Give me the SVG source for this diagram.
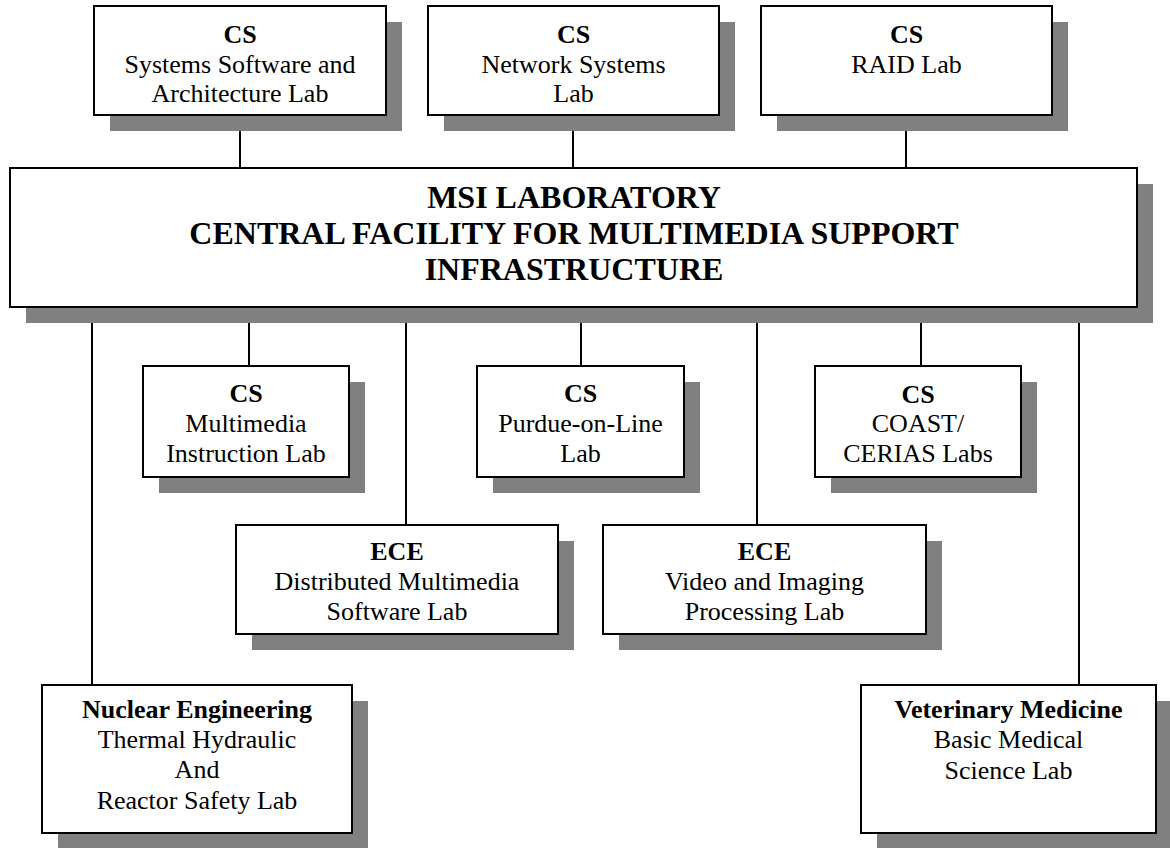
<svg xmlns="http://www.w3.org/2000/svg" width="1170" height="848" viewBox="0 0 1170 848">
<style>
.bg{fill:#ffffff}
.sh{fill:#808080}
.bx{fill:#ffffff;stroke:#000000;stroke-width:2}
.ln{stroke:#000000;stroke-width:2;fill:none}
text{font-family:"Liberation Serif","Times New Roman",serif;font-size:26px;fill:#000000;text-anchor:middle}
.b{font-weight:bold}
.t{font-weight:bold;font-size:32px}
</style>
<rect class="bg" x="0" y="0" width="1170" height="848"/>
<g id="connectors">
<line class="ln" x1="240" y1="131" x2="240" y2="168"/>
<line class="ln" x1="573" y1="131" x2="573" y2="168"/>
<line class="ln" x1="906" y1="131" x2="906" y2="168"/>
<line class="ln" x1="92" y1="322" x2="92" y2="685"/>
<line class="ln" x1="249" y1="322" x2="249" y2="366"/>
<line class="ln" x1="406" y1="322" x2="406" y2="525"/>
<line class="ln" x1="581" y1="322" x2="581" y2="366"/>
<line class="ln" x1="757" y1="322" x2="757" y2="525"/>
<line class="ln" x1="921" y1="322" x2="921" y2="366"/>
<line class="ln" x1="1079" y1="322" x2="1079" y2="685"/>
</g>
<g id="main">
<rect class="sh" x="26" y="184" width="1127" height="139"/>
<rect class="bx" x="10" y="168" width="1127" height="139"/>
<text class="t" x="574" y="208">MSI LABORATORY</text>
<text class="t" x="574" y="244">CENTRAL FACILITY FOR MULTIMEDIA SUPPORT</text>
<text class="t" x="574" y="280">INFRASTRUCTURE</text>
</g>
<g id="cs-systems">
<rect class="sh" x="110" y="22" width="292" height="109"/>
<rect class="bx" x="94" y="6" width="292" height="109"/>
<text class="b" x="240" y="43">CS</text>
<text x="240" y="73">Systems Software and</text>
<text x="240" y="102">Architecture Lab</text>
</g>
<g id="cs-network">
<rect class="sh" x="444" y="22" width="291" height="109"/>
<rect class="bx" x="428" y="6" width="291" height="109"/>
<text class="b" x="573.5" y="43">CS</text>
<text x="573.5" y="73">Network Systems</text>
<text x="573.5" y="102">Lab</text>
</g>
<g id="cs-raid">
<rect class="sh" x="777" y="22" width="291" height="109"/>
<rect class="bx" x="761" y="6" width="291" height="109"/>
<text class="b" x="906.5" y="43">CS</text>
<text x="906.5" y="73">RAID Lab</text>
</g>
<g id="cs-multimedia">
<rect class="sh" x="159" y="382" width="206" height="111"/>
<rect class="bx" x="143" y="366" width="206" height="111"/>
<text class="b" x="246" y="402">CS</text>
<text x="246" y="432">Multimedia</text>
<text x="246" y="462">Instruction Lab</text>
</g>
<g id="cs-purdue">
<rect class="sh" x="493" y="382" width="207" height="111"/>
<rect class="bx" x="477" y="366" width="207" height="111"/>
<text class="b" x="580.5" y="402">CS</text>
<text x="580.5" y="432">Purdue-on-Line</text>
<text x="580.5" y="462">Lab</text>
</g>
<g id="cs-coast">
<rect class="sh" x="831" y="382" width="206" height="111"/>
<rect class="bx" x="815" y="366" width="206" height="111"/>
<text class="b" x="918" y="403">CS</text>
<text x="918" y="432">COAST/</text>
<text x="918" y="462">CERIAS Labs</text>
</g>
<g id="ece-distributed">
<rect class="sh" x="252" y="541" width="322" height="109"/>
<rect class="bx" x="236" y="525" width="322" height="109"/>
<text class="b" x="397" y="560">ECE</text>
<text x="397" y="590">Distributed Multimedia</text>
<text x="397" y="620">Software Lab</text>
</g>
<g id="ece-video">
<rect class="sh" x="619" y="541" width="323" height="109"/>
<rect class="bx" x="603" y="525" width="323" height="109"/>
<text class="b" x="764.5" y="560">ECE</text>
<text x="764.5" y="590">Video and Imaging</text>
<text x="764.5" y="620">Processing Lab</text>
</g>
<g id="nuclear">
<rect class="sh" x="58" y="701" width="310" height="148"/>
<rect class="bx" x="42" y="685" width="310" height="148"/>
<text class="b" x="197" y="718">Nuclear Engineering</text>
<text x="197" y="748">Thermal Hydraulic</text>
<text x="197" y="778">And</text>
<text x="197" y="809">Reactor Safety Lab</text>
</g>
<g id="veterinary">
<rect class="sh" x="877" y="701" width="295" height="148"/>
<rect class="bx" x="861" y="685" width="295" height="148"/>
<text class="b" x="1008.5" y="718">Veterinary Medicine</text>
<text x="1008.5" y="748">Basic Medical</text>
<text x="1008.5" y="779">Science Lab</text>
</g>
</svg>
